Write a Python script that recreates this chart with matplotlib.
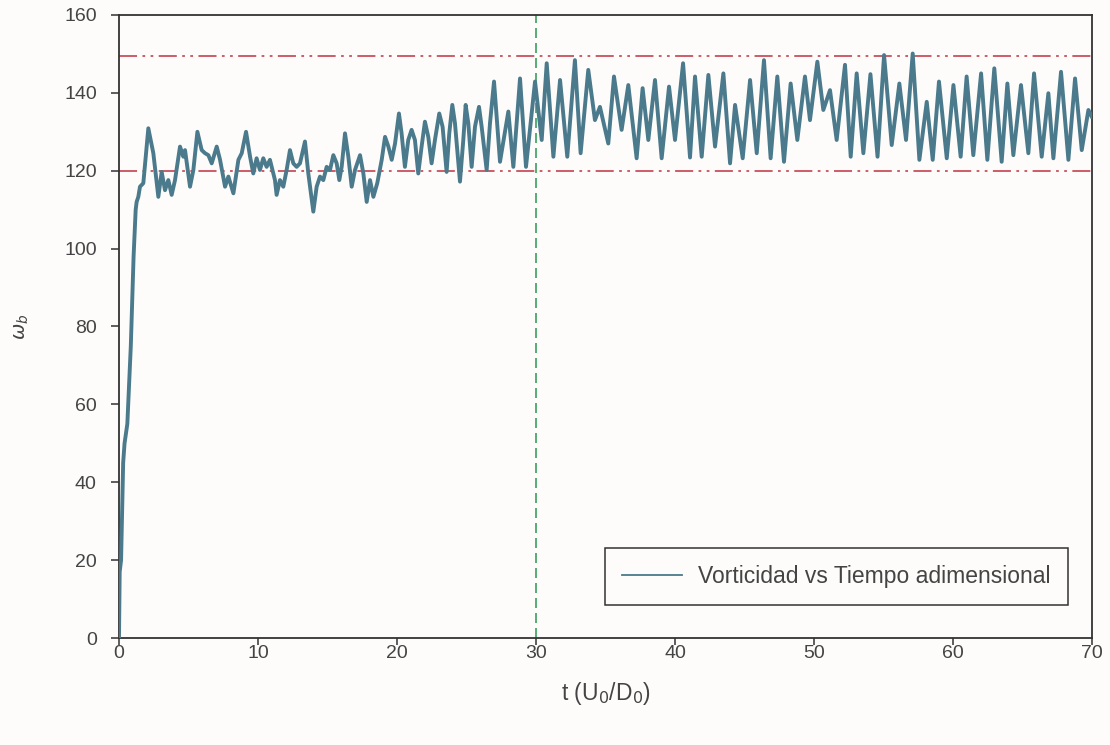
import matplotlib
matplotlib.use('Agg')
import matplotlib.pyplot as plt

plt.rcParams['font.family'] = ['Liberation Sans', 'DejaVu Sans']

# vorticity vs dimensionless time (peaks / troughs)
t = [0.0, 0.05, 0.15, 0.3, 0.4, 0.6, 0.85, 1.05, 1.2, 1.27, 1.39, 1.51, 1.75,
     2.11, 2.47, 2.83, 3.07, 3.31, 3.55, 3.79, 4.03, 4.39, 4.63, 4.75, 5.11,
     5.35, 5.64, 5.95, 6.19, 6.43, 6.67, 7.03, 7.27, 7.63, 7.87, 8.23, 8.59,
     8.83, 9.14, 9.43, 9.66, 9.9, 10.14, 10.38, 10.62, 10.86, 11.22, 11.34,
     11.58, 11.82, 12.06, 12.3, 12.54, 12.78, 13.02, 13.38, 13.62, 13.98,
     14.22, 14.46, 14.7, 14.94, 15.18, 15.42, 15.66, 15.85, 16.02, 16.26,
     16.5, 16.74, 16.98, 17.34, 17.58, 17.82, 18.06, 18.3, 18.58, 18.9,
     19.14, 19.38, 19.62, 19.86, 20.14, 20.33, 20.57, 20.81, 21.05, 21.29,
     21.53, 21.77, 22.01, 22.25, 22.49, 22.73, 23.04, 23.28, 23.57, 23.76,
     23.98, 24.17, 24.53, 24.77, 24.94, 25.13, 25.37, 25.61, 25.9, 26.09,
     26.45, 26.69, 26.98, 27.41, 28.01, 28.37, 28.85, 29.28, 29.93, 30.41,
     30.77, 31.25, 31.73, 32.25, 32.8, 33.21, 33.76, 34.24, 34.6, 35.2,
     35.61, 36.16, 36.64, 37.24, 37.67, 38.08, 38.56, 39.04, 39.57, 40.0,
     40.58, 41.08, 41.44, 41.92, 42.4, 42.88, 43.48, 43.96, 44.32, 44.87,
     45.4, 45.88, 46.4, 46.88, 47.36, 47.84, 48.32, 48.8, 49.35, 49.71,
     50.24, 50.67, 51.15, 51.63, 52.23, 52.64, 53.07, 53.55, 54.06, 54.57,
     55.04, 55.59, 56.14, 56.62, 57.1, 57.58, 58.11, 58.54, 58.99, 59.55,
     60.03, 60.55, 60.98, 61.46, 62.02, 62.47, 62.97, 63.5, 63.91, 64.34,
     64.89, 65.42, 65.83, 66.38, 66.86, 67.22, 67.77, 68.3, 68.78, 69.26,
     69.74, 69.98]
w = [0.0, 17.0, 20.0, 45.0, 50.0, 55.0, 75.0, 98.0, 110.0, 112.0, 113.3,
     115.9, 116.8, 130.9, 124.5, 113.3, 119.7, 115.0, 117.6, 113.8, 117.6,
     126.2, 123.6, 125.3, 115.9, 120.2, 130.0, 125.3, 124.5, 124.0, 121.9,
     126.2, 122.8, 115.9, 118.5, 114.2, 122.8, 124.5, 130.0, 123.6, 119.3,
     123.2, 120.2, 123.2, 121.0, 122.8, 117.6, 113.8, 117.6, 115.9, 120.2,
     125.3, 121.9, 121.0, 121.9, 127.5, 119.3, 109.5, 115.9, 118.5, 117.6,
     121.0, 120.2, 124.0, 121.9, 117.6, 121.0, 129.6, 123.6, 115.9, 120.2,
     124.0, 119.3, 112.0, 117.6, 113.3, 116.8, 122.8, 128.7, 126.2, 122.8,
     127.0, 134.7, 129.6, 121.0, 127.9, 130.5, 127.9, 119.3, 126.2, 132.6,
     128.7, 121.9, 127.9, 134.7, 131.3, 119.7, 129.6, 136.9, 132.2, 117.2,
     127.9, 136.9, 132.2, 121.0, 131.3, 136.4, 131.3, 120.2, 132.2, 142.9,
     122.3, 135.2, 121.0, 143.7, 121.0, 142.9, 127.9, 147.6, 123.6, 143.3,
     123.6, 148.4, 124.5, 145.9, 133.0, 136.4, 127.0, 144.2, 130.5, 142.0,
     123.2, 141.2, 127.9, 143.3, 123.2, 141.6, 127.9, 147.6, 123.4, 144.2,
     123.6, 144.6, 126.2, 145.0, 121.9, 136.9, 123.2, 143.3, 124.5, 148.4,
     123.2, 144.2, 122.3, 142.4, 127.9, 144.2, 133.0, 148.0, 135.6, 140.7,
     127.9, 147.2, 123.6, 145.0, 124.5, 144.8, 123.6, 149.7, 126.6, 142.4,
     127.9, 150.1, 122.8, 137.7, 122.8, 142.9, 123.2, 142.0, 123.6, 144.2,
     124.0, 145.0, 122.8, 146.3, 122.3, 142.4, 124.0, 142.0, 124.5, 145.0,
     123.6, 139.9, 123.2, 145.4, 122.8, 143.7, 125.3, 135.6, 133.9]

band = [120, 149.5]
t_mark = 30

fig = plt.figure(figsize=(11.1, 7.45), dpi=100)
fig.patch.set_facecolor('#fdfcfa')
ax = fig.add_axes([0.1072, 0.1436, 0.8766, 0.8363])
ax.set_facecolor('#fdfcfa')

ax.plot(t, w, color='#4a7a8c', lw=2.8, label='Vorticidad vs Tiempo adimensional', zorder=3)
for b in band:
	ax.axhline(b, color='#c8505c', lw=1.3, dashes=[10, 3, 1.5, 3, 1.5, 3], zorder=2)
ax.axvline(t_mark, color='#3aa060', lw=1.2, dashes=[6, 3], zorder=2)

ax.set_xlim(0, 70)
ax.set_ylim(0, 160)
ax.set_xticks(range(0, 71, 10))
ax.set_yticks(range(0, 161, 20))
ax.tick_params(direction='out', length=5, width=1.1, colors='#333333', labelsize=14,
               labelcolor='#444444', top=False, right=False)
ax.tick_params(axis='x', pad=0)
ax.tick_params(axis='y', length=6, pad=10)
for s in ax.spines.values():
	s.set_color('#333333')
	s.set_linewidth(1.3)

ax.set_xlabel('t (U$_0$/D$_0$)', fontsize=16.5, color='#444444', labelpad=13)
ax.set_ylabel(r'$\omega_b$', fontsize=14, color='#444444', labelpad=24)

leg = ax.legend(loc='lower right', bbox_to_anchor=(0.975, 0.053), fontsize=16.5,
                frameon=True, fancybox=False, handlelength=2.6, borderpad=0.75,
                handletextpad=0.7, borderaxespad=0)
leg.get_frame().set_edgecolor('#333333')
leg.get_frame().set_linewidth(1.1)
leg.get_frame().set_facecolor('#fdfcfa')
leg.get_frame().set_alpha(1)
for txt in leg.get_texts():
	txt.set_color('#444444')
leg.get_lines()[0].set_linewidth(1.3)

plt.savefig('out.png', dpi=100, facecolor=fig.get_facecolor())
